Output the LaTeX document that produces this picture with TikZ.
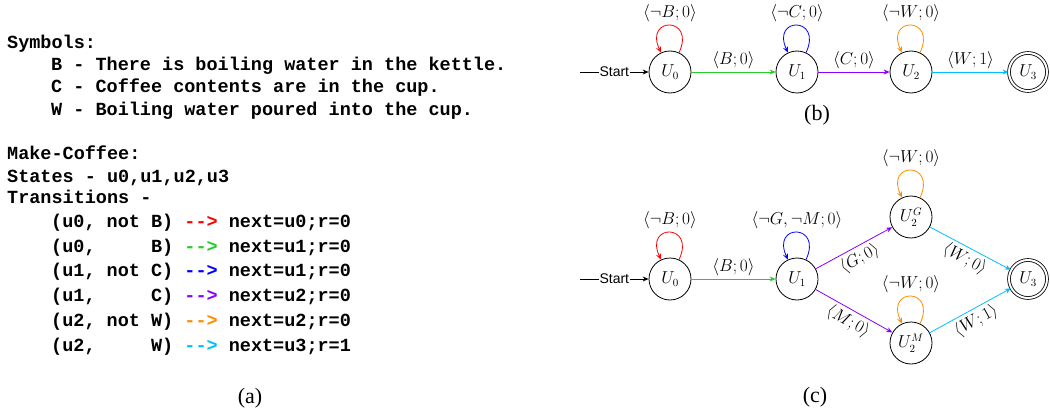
\documentclass[tikz,border=0pt]{standalone}
\usepackage{fontspec}
\newfontfamily\codefont{Liberation Mono}
\newfontfamily\capfont{Liberation Serif}
\newfontfamily\labsans{Liberation Sans}
\usetikzlibrary{arrows.meta}
\definecolor{cred}{RGB}{255,0,0}
\definecolor{cgreen}{RGB}{40,204,40}
\definecolor{cblue}{RGB}{0,0,255}
\definecolor{cpurple}{RGB}{136,0,255}
\definecolor{corange}{RGB}{255,140,0}
\definecolor{ccyan}{RGB}{0,191,255}
\begin{document}
\begin{tikzpicture}[x=1pt,y=1pt,
 code/.style={anchor=base west, inner sep=0pt, font=\codefont\bfseries\fontsize{18.5}{20}\selectfont},
 state/.style={draw, circle, minimum size=42pt, inner sep=0pt, line width=0.8pt, font=\fontsize{16}{18}\selectfont},
 final/.style={state, double, double distance=2pt, minimum size=38pt},
 lab/.style={font=\fontsize{16}{18}\selectfont, inner sep=3pt, text=black},
 edg/.style={line width=0.8pt, -{Stealth[length=6pt,width=5pt]}},
 startlab/.style={fill=white, inner sep=1pt, font=\labsans\fontsize{14}{16}\selectfont},
 caption/.style={font=\capfont\fontsize{22}{24}\selectfont},
]
\fill[white] (0,0) rectangle (1050,-412);
\useasboundingbox (0,0) rectangle (1050,-412);

% ---------- (a) ----------
\node[code] (s0) at (7,-48.5) {Symbols:};
\node[code] (s1) at (51,-70.5) {B - There is boiling water in the kettle.};
\node[code] (s2) at (51,-92.5) {C - Coffee contents are in the cup.};
\node[code] (s3) at (51,-115.5) {W - Boiling water poured into the cup.};
\node[code] (m0) at (7,-159.5) {Make-Coffee:};
\node[code] (m1) at (7,-182.5) {States - u0,u1,u2,u3};
\node[code] (m2) at (7,-203.5) {Transitions -};
\node[code] (t1) at (51,-227.5) {(u0, not B) \textcolor{cred}{-{}-{}>} next=u0;r=0};
\node[code] (t2) at (51,-252.5) {(u0,~~~~~B) \textcolor{cgreen}{-{}-{}>} next=u1;r=0};
\node[code] (t3) at (51,-276.5) {(u1, not C) \textcolor{cblue}{-{}-{}>} next=u1;r=0};
\node[code] (t4) at (51,-301.5) {(u1,~~~~~C) \textcolor{cpurple}{-{}-{}>} next=u2;r=0};
\node[code] (t5) at (51,-326.5) {(u2, not W) \textcolor{corange}{-{}-{}>} next=u2;r=0};
\node[code] (t6) at (51,-351.5) {(u2,~~~~~W) \textcolor{ccyan}{-{}-{}>} next=u3;r=1};
\node[caption] (capa) at (250,-398) {(a)};

% ---------- (b) ----------
\node[state] (b0) at (670,-72) {$U_0$};
\node[state] (b1) at (797,-72) {$U_1$};
\node[state] (b2) at (911,-72) {$U_2$};
\node[final] (b3) at (1028,-72) {$U_3$};
\coordinate (bs) at (580,-72);
\draw[edg] (bs) -- node[startlab] {Start} (b0);
\draw[edg,cgreen] (b0) -- node[lab,above] {$\langle B;0\rangle$} (b1);
\draw[edg,cpurple] (b1) -- node[lab,above] {$\langle C;0\rangle$} (b2);
\draw[edg,ccyan] (b2) -- node[lab,above] {$\langle W;1\rangle$} (b3);
\draw[edg,cred] (b0.65) .. controls +(65:40) and +(115:40) .. node[lab,above] {$\langle\neg B;0\rangle$} (b0.115);
\draw[edg,cblue] (b1.65) .. controls +(65:40) and +(115:40) .. node[lab,above] {$\langle\neg C;0\rangle$} (b1.115);
\draw[edg,corange] (b2.65) .. controls +(65:40) and +(115:40) .. node[lab,above] {$\langle\neg W;0\rangle$} (b2.115);
\node[caption] (capb) at (817,-115) {(b)};

% ---------- (c) ----------
\node[state] (c0) at (670,-279) {$U_0$};
\node[state] (c1) at (797,-279) {$U_1$};
\node[state] (c2g) at (911,-217) {$U_2^G$};
\node[state] (c2m) at (911,-343) {$U_2^M$};
\node[final] (c3) at (1028,-279) {$U_3$};
\coordinate (cs) at (580,-279);
\draw[edg] (cs) -- node[startlab] {Start} (c0);
\draw[edg,cgreen] (c0) -- node[lab,above] {$\langle B;0\rangle$} (c1);
\draw[edg,cpurple] (c1) -- node[lab,below,sloped] {$\langle G;0\rangle$} (c2g);
\draw[edg,cpurple] (c1) -- node[lab,below,sloped] {$\langle M;0\rangle$} (c2m);
\draw[edg,ccyan] (c2g) -- node[lab,below,sloped] {$\langle W;0\rangle$} (c3);
\draw[edg,ccyan] (c2m) -- node[lab,below,sloped] {$\langle W;1\rangle$} (c3);
\draw[edg,cred] (c0.65) .. controls +(65:40) and +(115:40) .. node[lab,above] {$\langle\neg B;0\rangle$} (c0.115);
\draw[edg,cblue] (c1.65) .. controls +(65:40) and +(115:40) .. node[lab,above] {$\langle\neg G,\neg M;0\rangle$} (c1.115);
\draw[edg,corange] (c2g.65) .. controls +(65:40) and +(115:40) .. node[lab,above] {$\langle\neg W;0\rangle$} (c2g.115);
\draw[edg,corange] (c2m.65) .. controls +(65:40) and +(115:40) .. node[lab,above] {$\langle\neg W;0\rangle$} (c2m.115);
\node[caption] (capc) at (815,-397) {(c)};
\end{tikzpicture}
\end{document}
